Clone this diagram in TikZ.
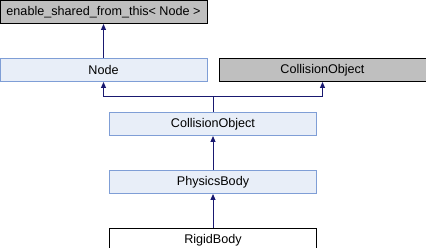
\documentclass[tikz,border=0pt]{standalone}
\usepackage{fontspec}
\setmainfont{Liberation Sans}
\usepackage{xcolor}
\usepackage{tikz}
\usetikzlibrary{
    arrows.meta,
    positioning
}
\definecolor{docfill}{HTML}{E8EEF8}
\definecolor{docline}{HTML}{7F9ED6}
\definecolor{undocgray}{HTML}{BFBFBF}
\definecolor{edgeblue}{HTML}{191970}

\begin{document}
\begin{tikzpicture}[
            x=1pt, y=-1pt,
            node distance=34pt,
            cls/.style={draw, minimum width=207pt, minimum height=23pt, inner sep=0pt, line width=1pt, font=\fontsize{12.6}{14}\selectfont},
            doc/.style={cls, draw=docline, fill=docfill},
            undoc/.style={cls, draw=black, fill=undocgray},
            arr/.style={-{Triangle[length=6pt, width=5pt]}, draw=edgeblue, line width=1pt},
        ]
            \useasboundingbox (0,0) rectangle (426,248);

            % ====== Class boxes ======
            \node[undoc] (esft) at (103.5,12) {enable\_shared\_from\_this< Node >};

            \node[doc, below=of esft] (node) {Node};

            \node[undoc, right=11pt of node] (collgray) {CollisionObject};

            \node[doc] (coll) at (213,124) {CollisionObject};

            \node[doc, below=of coll] (phys) {PhysicsBody};

            \node[cls, fill=white, below=of phys] (rigid) {RigidBody};

            % ====== Inheritance arrows ======
            \draw[arr] (node.north) -- (esft.south);
            \draw[arr]
                (coll.north) -- ++(0,-15) coordinate (join) -| (node.south);
            \draw[arr] (join) -| (collgray.south);
            \draw[arr] (phys.north) -- (coll.south);
            \draw[arr] (rigid.north) -- (phys.south);
        \end{tikzpicture}
\end{document}
